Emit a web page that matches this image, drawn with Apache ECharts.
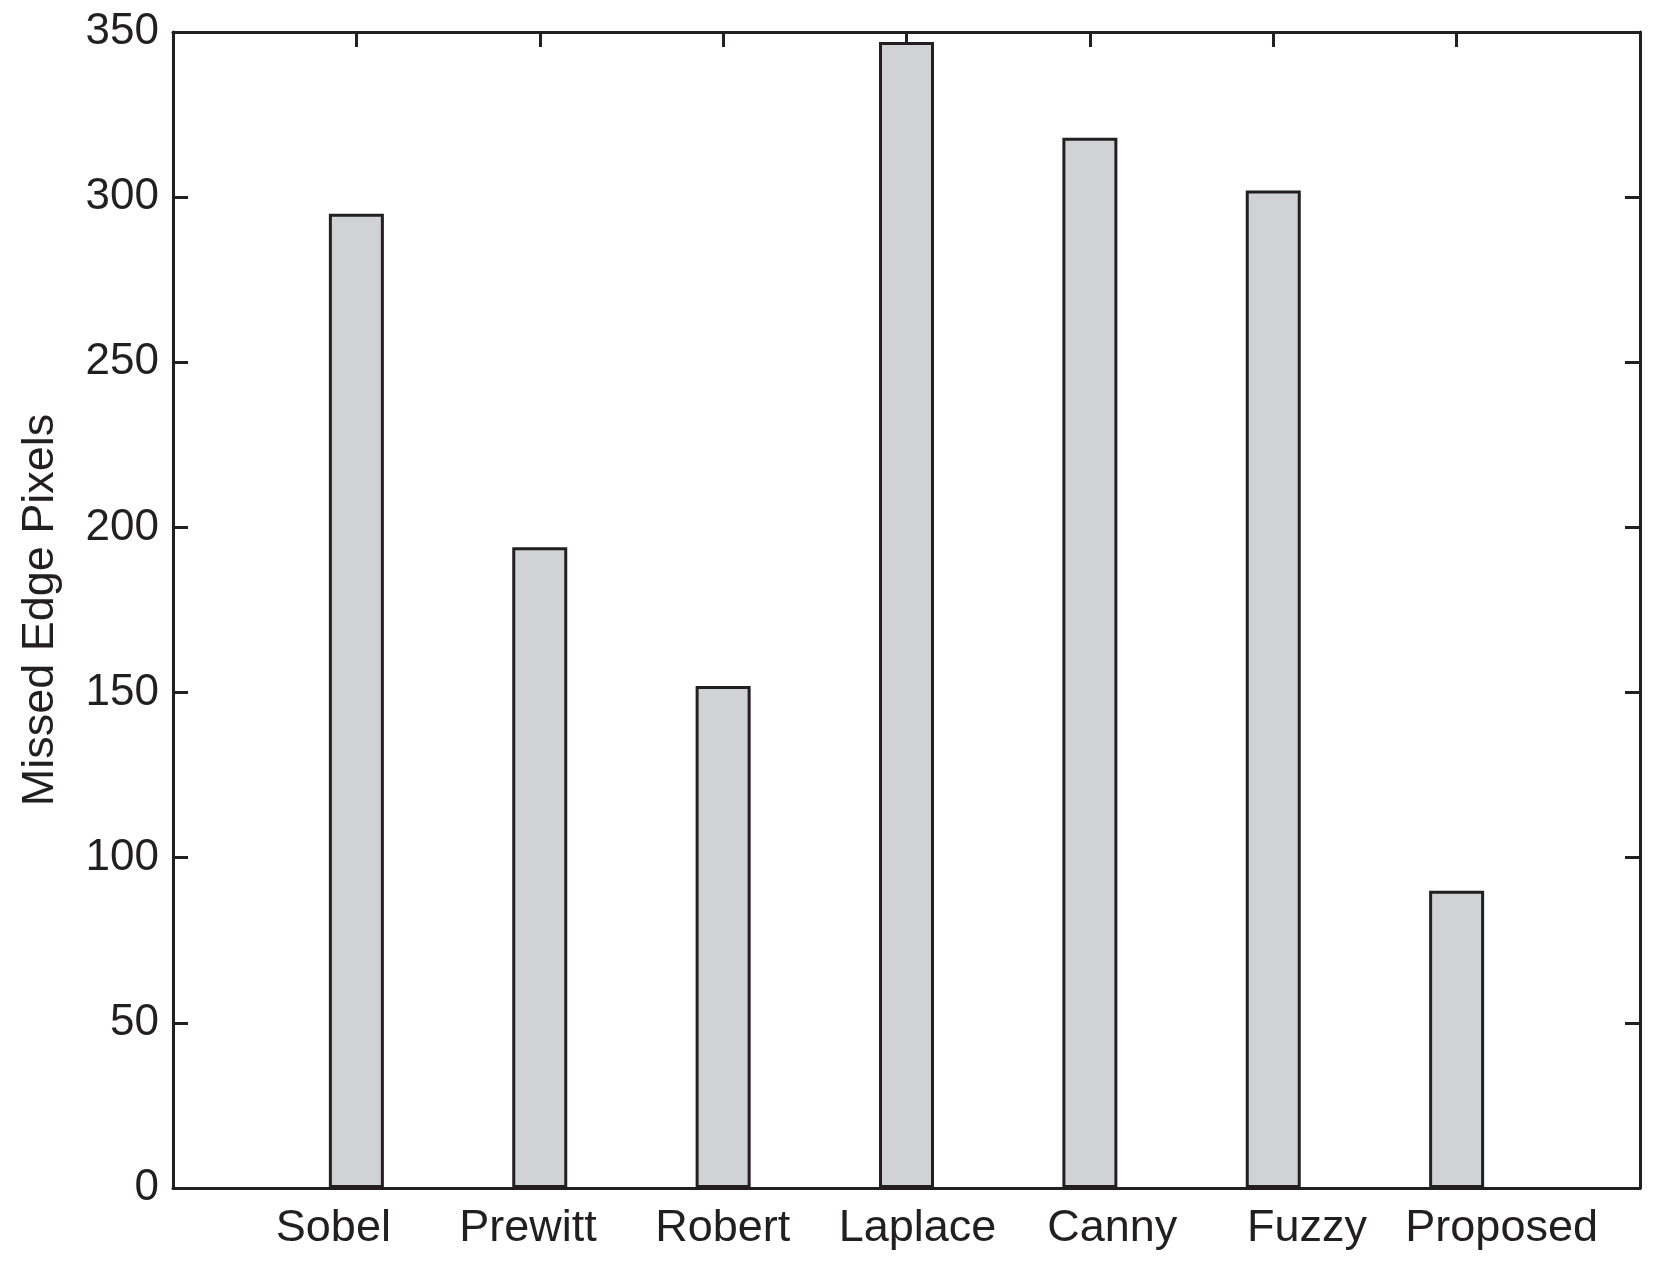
<!DOCTYPE html>
<html>
<head>
<meta charset="utf-8">
<script src="https://cdn.jsdelivr.net/npm/echarts@6/dist/echarts.min.js"></script>
<style>
  html, body { margin: 0; padding: 0; background: #fff; }
  #chart { width: 1657px; height: 1266px; }
</style>
</head>
<body>
<div id="chart"></div>
<script>
const methods = ["Sobel", "Prewitt", "Robert", "Laplace", "Canny", "Fuzzy", "Proposed"];
const missedPixels = [295, 194, 152, 347, 318, 302, 90];
const yTicks = [0, 50, 100, 150, 200, 250, 300, 350];

const ink = "#231f20";
const font = "Liberation Sans, Arial, Helvetica, sans-serif";

// bars sit at x = 1..7 on a 0..8 value axis (matlab style)
const barData = missedPixels.map((v, i) => [i + 1, v]);

const chart = echarts.init(document.getElementById("chart"));

const frameAxis = {
  axisLine: { show: true, onZero: false, lineStyle: { color: ink, width: 3 } },
  axisTick: { show: true, inside: true, length: 15, lineStyle: { color: ink, width: 3 } },
  splitLine: { show: false }
};

chart.setOption({
  backgroundColor: "#fff",
  animation: false,
  grid: [
    // plot box
    { left: 173, right: 17, top: 32, bottom: 78 },
    // grid only used to place the category names
    { left: 236, right: 58, top: 32, bottom: 78 }
  ],
  xAxis: [
    Object.assign({
      type: "value", min: 0, max: 8, interval: 1, position: "bottom",
      axisLabel: { show: false }
    }, frameAxis),
    Object.assign({
      type: "value", min: 0, max: 8, interval: 1, position: "top",
      axisLabel: { show: false }
    }, frameAxis),
    {
      type: "category", gridIndex: 1, data: methods, position: "bottom",
      axisLine: { show: false }, axisTick: { show: false }, splitLine: { show: false },
      axisLabel: { color: ink, fontSize: 45, fontFamily: font, margin: 18, interval: 0 }
    }
  ],
  yAxis: [
    Object.assign({
      type: "value", min: yTicks[0], max: yTicks[yTicks.length - 1], interval: 50,
      position: "left",
      name: "Missed Edge Pixels", nameLocation: "middle", nameGap: 110,
      nameTextStyle: { color: ink, fontSize: 45, fontFamily: font },
      axisLabel: { color: ink, fontSize: 44, fontFamily: font, margin: 14 }
    }, frameAxis),
    Object.assign({
      type: "value", min: yTicks[0], max: yTicks[yTicks.length - 1], interval: 50,
      position: "right",
      axisLabel: { show: false }
    }, frameAxis),
    { type: "value", gridIndex: 1, show: false }
  ],
  series: [
    {
      type: "bar",
      xAxisIndex: 0,
      yAxisIndex: 0,
      data: barData,
      barWidth: 55,
      itemStyle: { color: "#d1d2d4", borderColor: ink, borderWidth: 3 }
    }
  ]
});
</script>
</body>
</html>
